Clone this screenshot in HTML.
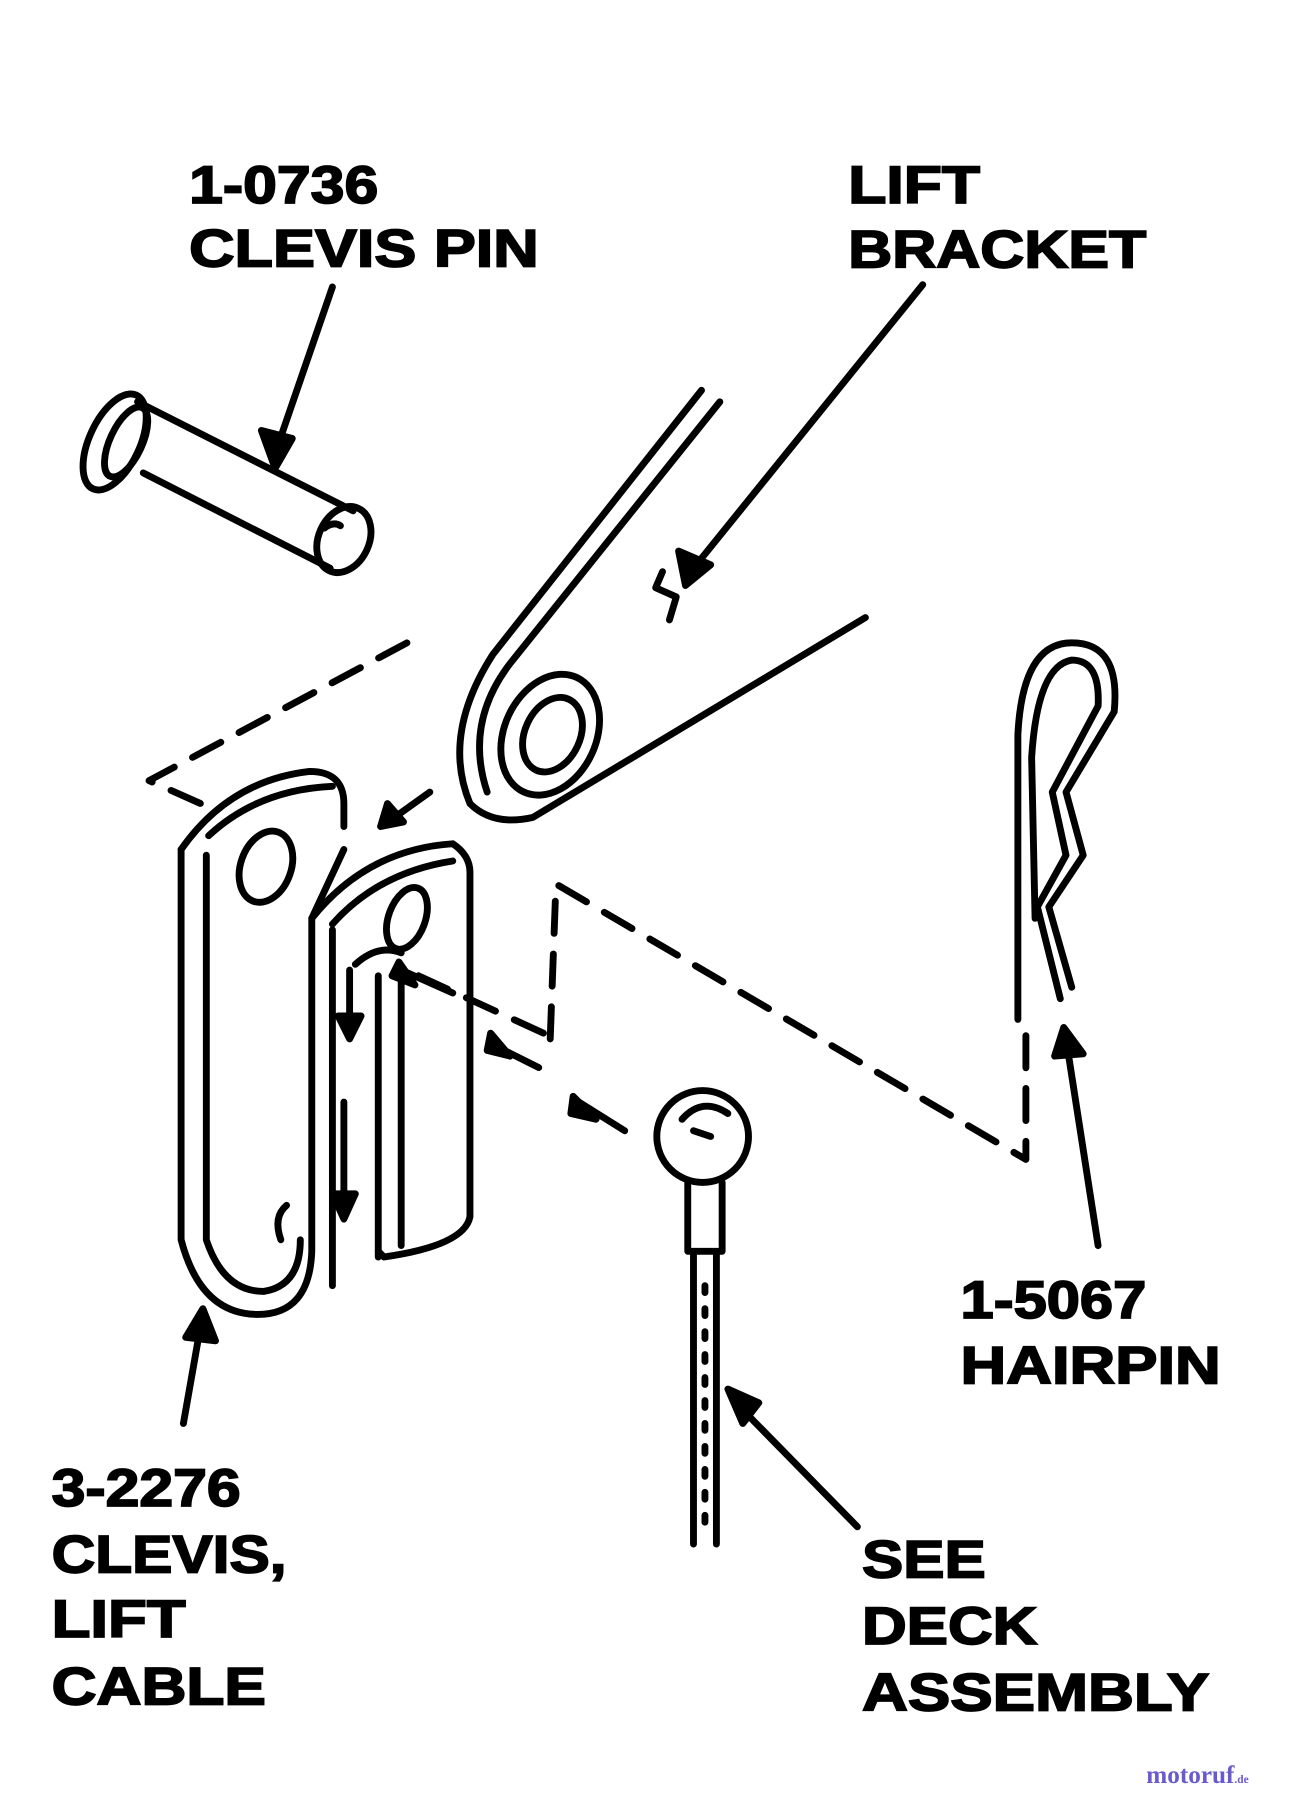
<!DOCTYPE html>
<html><head><meta charset="utf-8"><style>
html,body{margin:0;padding:0;background:#fff;}
svg{display:block;}
text{font-family:"Liberation Sans",sans-serif;font-weight:bold;fill:#000;stroke:#000;stroke-width:1.5;}
</style></head><body>
<svg width="1301" height="1800" viewBox="0 0 1135 1568" preserveAspectRatio="none" xmlns="http://www.w3.org/2000/svg">
<rect width="1135" height="1568" fill="#fff"/>
<g font-size="46" lengthAdjust="spacingAndGlyphs">
<text x="165" y="177" textLength="165" lengthAdjust="spacingAndGlyphs">1-0736</text>
<text x="165" y="232" textLength="305" lengthAdjust="spacingAndGlyphs">CLEVIS PIN</text>
<text x="740" y="177" textLength="115" lengthAdjust="spacingAndGlyphs">LIFT</text>
<text x="740" y="233" textLength="260" lengthAdjust="spacingAndGlyphs">BRACKET</text>
<text x="838" y="1148" textLength="162" lengthAdjust="spacingAndGlyphs">1-5067</text>
<text x="838" y="1205" textLength="227" lengthAdjust="spacingAndGlyphs">HAIRPIN</text>
<text x="45" y="1312" textLength="165" lengthAdjust="spacingAndGlyphs">3-2276</text>
<text x="45" y="1370" textLength="205" lengthAdjust="spacingAndGlyphs">CLEVIS,</text>
<text x="45" y="1426" textLength="117" lengthAdjust="spacingAndGlyphs">LIFT</text>
<text x="45" y="1485" textLength="187" lengthAdjust="spacingAndGlyphs">CABLE</text>
<text x="752" y="1374" textLength="108" lengthAdjust="spacingAndGlyphs">SEE</text>
<text x="752" y="1432" textLength="153" lengthAdjust="spacingAndGlyphs">DECK</text>
<text x="752" y="1490" textLength="303" lengthAdjust="spacingAndGlyphs">ASSEMBLY</text>
</g>
<text x="1000" y="1553" font-size="22" style="fill:#6a5acd;stroke:none;font-family:'Liberation Serif',serif">motoruf<tspan font-size="10">.de</tspan></text>
<g fill="none" stroke="#000" stroke-width="6" stroke-linecap="round" stroke-linejoin="round">
<!-- clevis pin -->
<ellipse cx="100" cy="385" rx="22" ry="45" transform="rotate(25 100 385)"/>
<ellipse cx="110" cy="385" rx="14" ry="33" transform="rotate(25 110 385)"/>
<path d="M120 350 L308 445 M125 412 L288 495"/>
<ellipse cx="300" cy="470" rx="22" ry="30" transform="rotate(25 300 470)"/>
<path d="M283 460 q8 -6 14 -2"/>
<path d="M290 250 L240 395"/>
<path d="M228 375 L240 408 L255 382 Z" fill="#000"/>
<!-- lift bracket -->
<path d="M612 340 L430 570 Q385 640 410 700 Q430 720 465 712 L755 538"/>
<path d="M628 350 L445 578 Q405 630 425 690"/>
<ellipse cx="480" cy="640" rx="40" ry="55" transform="rotate(25 480 640)"/>
<ellipse cx="482" cy="640" rx="24" ry="34" transform="rotate(25 482 640)"/>
<path d="M578 498 l-6 14 l18 8 l-6 20"/>
<path d="M805 248 L605 495"/>
<path d="M592 480 L598 510 L620 492 Z" fill="#000"/>
<!-- clevis -->
<path d="M158 740 L158 1080 Q175 1145 225 1145 Q270 1145 272 1090 L272 800 L300 740"/>
<path d="M180 745 L180 1080 Q195 1125 230 1125 Q262 1120 262 1080"/>
<path d="M158 740 Q200 680 270 672 Q300 672 300 700 L300 720"/>
<path d="M182 728 Q225 688 290 685"/>
<ellipse cx="232" cy="755" rx="22" ry="32" transform="rotate(20 232 755)"/>
<path d="M250 1050 Q238 1060 245 1080"/>
<path d="M272 800 Q320 740 395 735 Q410 745 410 760 L410 1060 Q405 1085 335 1095 L330 1090"/>
<path d="M290 805 Q330 760 395 750"/>
<path d="M290 810 L290 1120 M330 850 L330 1095 M350 850 L350 1085"/>
<ellipse cx="355" cy="800" rx="16" ry="28" transform="rotate(20 355 800)"/>
<path d="M310 840 q20 -18 40 -10"/>
<!-- dashed -->
<path d="M355 560 L130 680 L175 700" stroke-dasharray="28 18"/>
<path d="M480 905 L485 770 L895 1010 L895 895" stroke-dasharray="28 18"/>
<path d="M365 850 L485 905" stroke-dasharray="28 18"/>
<!-- small arrows -->
<path d="M375 690 L340 715 M350 845 L395 865 M430 910 L470 930 M505 960 L545 985"/>
<path d="M338 700 L332 720 L352 716 Z M348 838 L342 850 L362 858 Z M428 900 L425 915 L445 920 Z M500 955 L498 970 L520 975 Z" fill="#000"/>
<path d="M305 845 L305 900 M300 960 L300 1060"/>
<path d="M295 885 L305 905 L315 885 Z M290 1040 L300 1062 L310 1040 Z" fill="#000"/>
<!-- hairpin -->
<path d="M888 888 L888 640 Q892 560 935 560 Q978 560 972 620 L930 690 L945 745 L915 790 L935 860"/>
<path d="M903 800 L900 660 Q905 580 935 575 Q960 575 958 615 L918 690 L930 745 L905 790 L925 870"/>
<path d="M958 1085 L930 905"/>
<path d="M920 920 L928 895 L945 918 Z" fill="#000"/>
<!-- cable ball -->
<circle cx="613" cy="990" r="40"/>
<path d="M595 975 q18 -20 40 -5 M605 985 l15 5"/>
<path d="M600 1030 L600 1090 L630 1090 L630 1030 M605 1090 L605 1345 M625 1090 L625 1345"/>
<path d="M615 1120 L615 1340" stroke-dasharray="6 14"/>
<path d="M748 1330 L640 1220"/>
<path d="M635 1210 L648 1240 L662 1222 Z" fill="#000"/>
<path d="M160 1240 L175 1155"/>
<path d="M162 1165 L177 1140 L188 1168 Z" fill="#000"/>
</g>
</svg>
</body></html>
